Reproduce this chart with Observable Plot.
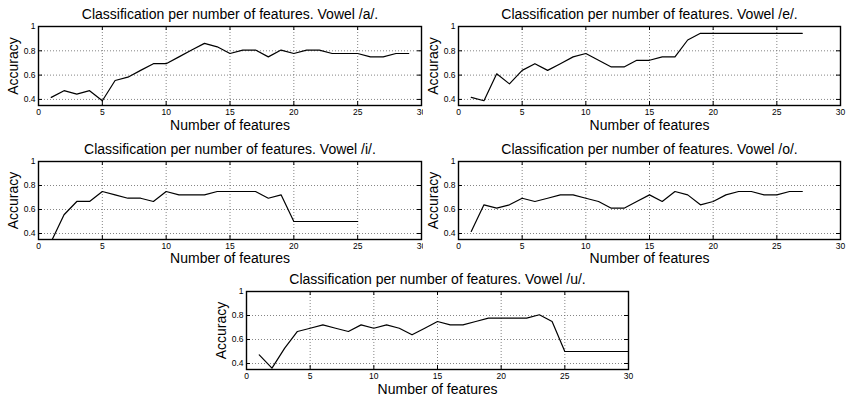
<!DOCTYPE html>
<html>
<head>
<meta charset="utf-8">
<script src="https://cdn.jsdelivr.net/npm/d3@7"></script>
<script src="https://cdn.jsdelivr.net/npm/@observablehq/plot@0.6"></script>
<style>
  html, body { margin: 0; padding: 0; background: white; }
  #chart { position: relative; width: 846px; height: 399px; background: white; overflow: hidden; }
  #chart svg { position: absolute; }
</style>
</head>
<body>
<div id="chart"></div>
<script>
// ---- data (accuracy per number of features) ----
const vowelA = [0.417, 0.472, 0.444, 0.472, 0.389, 0.556, 0.583, 0.639, 0.694, 0.694,
                0.75, 0.806, 0.861, 0.833, 0.778, 0.806, 0.806, 0.75, 0.806, 0.778,
                0.806, 0.806, 0.778, 0.778, 0.778, 0.75, 0.75, 0.778, 0.778];
const vowelE = [0.417, 0.389, 0.611, 0.528, 0.639, 0.694, 0.639, 0.694, 0.75, 0.778,
                0.722, 0.667, 0.667, 0.722, 0.722, 0.75, 0.75, 0.889, 0.944, 0.944,
                0.944, 0.944, 0.944, 0.944, 0.944, 0.944, 0.944];
const vowelI = [0.333, 0.556, 0.667, 0.667, 0.75, 0.722, 0.694, 0.694, 0.667, 0.75,
                0.722, 0.722, 0.722, 0.75, 0.75, 0.75, 0.75, 0.694, 0.722, 0.5,
                0.5, 0.5, 0.5, 0.5, 0.5];
const vowelO = [0.417, 0.639, 0.611, 0.639, 0.694, 0.667, 0.694, 0.722, 0.722, 0.694,
                0.667, 0.611, 0.611, 0.667, 0.722, 0.667, 0.75, 0.722, 0.639, 0.667,
                0.722, 0.75, 0.75, 0.722, 0.722, 0.75, 0.75];
const vowelU = [0.472, 0.361, 0.528, 0.667, 0.694, 0.722, 0.694, 0.667, 0.722, 0.694,
                0.722, 0.694, 0.639, 0.694, 0.75, 0.722, 0.722, 0.75, 0.778, 0.778,
                0.778, 0.778, 0.806, 0.75, 0.5, 0.5, 0.5, 0.5, 0.5, 0.5];

const xTicks = [0, 5, 10, 15, 20, 25, 30];
const yTicks = [0.4, 0.6, 0.8, 1];
const yTickLabels = ["0.4", "0.6", "0.8", "1"];
const xDomain = [0, 30];
const yDomain = [0.35, 1];
const titlePrefix = "Classification per number of features. Vowel ";
const xLabel = "Number of features";
const yLabel = "Accuracy";

const panels = [
  {vowel: "/a/.", values: vowelA, left: 0,   top: 0,   width: 423, height: 135, mL: 38, mR: 2,  mT: 26, mB: 30, lblDy: 24},
  {vowel: "/e/.", values: vowelE, left: 423, top: 0,   width: 423, height: 135, mL: 35, mR: 6,  mT: 26, mB: 30, lblDy: 24},
  {vowel: "/i/.", values: vowelI, left: 0,   top: 135, width: 423, height: 130, mL: 38, mR: 2,  mT: 26, mB: 26, lblDy: 23.5},
  {vowel: "/o/.", values: vowelO, left: 423, top: 135, width: 423, height: 130, mL: 35, mR: 6,  mT: 26, mB: 26, lblDy: 23.5},
  {vowel: "/u/.", values: vowelU, left: 180, top: 265, width: 480, height: 134, mL: 66, mR: 32, mT: 26, mB: 30, lblDy: 24}
];

const font = "'Liberation Sans', Arial, Helvetica, sans-serif";
const chart = document.getElementById("chart");

for (const p of panels) {
  const innerW = p.width - p.mL - p.mR;
  const innerH = p.height - p.mT - p.mB;
  const data = p.values.map((v, i) => ({n: i + 1, acc: v}));
  const svg = Plot.plot({
    width: p.width,
    height: p.height,
    marginLeft: p.mL, marginRight: p.mR, marginTop: p.mT, marginBottom: p.mB,
    style: {fontFamily: font, fontSize: "8.5px", background: "white", color: "black", overflow: "visible"},
    x: {domain: xDomain},
    y: {domain: yDomain},
    marks: [
      Plot.gridX(xTicks, {stroke: "#666", strokeOpacity: 1, strokeWidth: 0.8, strokeDasharray: "1,2"}),
      Plot.gridY(yTicks, {stroke: "#666", strokeOpacity: 1, strokeWidth: 0.8, strokeDasharray: "1,2"}),
      Plot.axisX(xTicks, {tickSize: 0, tickPadding: 3, label: null, fill: "black"}),
      Plot.axisY(yTicks, {tickSize: 0, tickPadding: 3, label: null, fill: "black",
                          tickFormat: (d, i) => yTickLabels[i]}),
      Plot.tickX(xTicks, {x: d => d, insetTop: innerH - 4, stroke: "black"}),
      Plot.tickX(xTicks, {x: d => d, insetBottom: innerH - 4, stroke: "black"}),
      Plot.tickY(yTicks, {y: d => d, insetRight: innerW - 4, stroke: "black"}),
      Plot.tickY(yTicks, {y: d => d, insetLeft: innerW - 4, stroke: "black"}),
      Plot.line(data, {x: "n", y: "acc", stroke: "black", strokeWidth: 1.2, clip: true}),
      Plot.frame({stroke: "black", strokeWidth: 1.4}),
      Plot.text([titlePrefix + p.vowel], {frameAnchor: "top", lineAnchor: "bottom", dy: -8, fontSize: 14, fill: "black"}),
      Plot.text([xLabel], {frameAnchor: "bottom", lineAnchor: "bottom", dy: p.lblDy, fontSize: 14, fill: "black"}),
      Plot.text([yLabel], {frameAnchor: "left", textAnchor: "middle", lineAnchor: "bottom", rotate: -90, dx: -21, fontSize: 14, fill: "black"})
    ]
  });
  svg.style.left = p.left + "px";
  svg.style.top = p.top + "px";
  chart.appendChild(svg);
}
</script>
</body>
</html>
